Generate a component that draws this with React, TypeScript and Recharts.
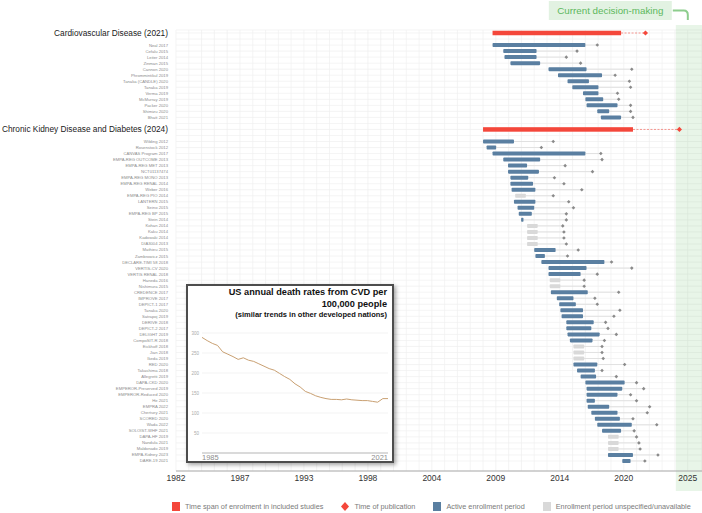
import {
  ComposedChart, Bar, Scatter, XAxis, YAxis, CartesianGrid, ReferenceArea,
  LineChart, Line,
} from 'recharts';

const RED = '#f4473b';
const BLUE = '#5a7fa1';
const GREY_BAR = '#d9d9d9';
const DIAMOND = '#8a8a8a';
const GREEN = '#5cb85c';
const FONT = '"Liberation Sans", Arial, Helvetica, sans-serif';

// section headers with the overall enrolment span and publication
const headers = ['Cardiovascular Disease (2021)', 'Chronic Kidney Disease and Diabetes (2024)'];
const headerStart = [2008.6, 2007.8];
const headerEnd = [2019.4, 2020.4];
const headerPub = [2021.45, 2024.3];

const cvdStudies = [
  'Neal 2017', 'Cefalu 2015', 'Leiter 2014', 'Zinman 2015', 'Cannon 2020', 'Phrommintikul 2019',
  'Tanaka (CANDLE) 2020', 'Tanaka 2019', 'Verma 2019', 'McMurray 2019', 'Packer 2020', 'Shimizu 2020', 'Bhatt 2021',
];
const cvdStart = [2008.6, 2009.5, 2009.6, 2010.1, 2013.3, 2014.1, 2014.9, 2015.3, 2016.2, 2016.4, 2016.5, 2017.4, 2017.7];
const cvdEnd = [2016.4, 2012.3, 2012.3, 2012.6, 2016.5, 2017.8, 2016.7, 2017.5, 2017.5, 2017.9, 2019.1, 2018.4, 2019.4];
const cvdPub = [2017.4, 2015.7, 2014.8, 2016.0, 2020.3, 2018.9, 2020.1, 2020.2, 2019.1, 2019.2, 2020.2, 2020.2, 2020.4];

const ckdStudies = [
  'Wilding 2012', 'Rosenstock 2012', 'CANVAS Program 2017', 'EMPA-REG OUTCOME 2013', 'EMPA-REG MET 2013',
  'NCT01137474', 'EMPA-REG MONO 2013', 'EMPA-REG RENAL 2014', 'Weber 2016', 'EMPA-REG PIO 2014',
  'LANTERN 2015', 'Seino 2015', 'EMPA-REG BP 2015', 'Stein 2014', 'Kohan 2014', 'Kaku 2014',
  'Kadowaki 2014', 'DIA3004 2013', 'Mathieu 2015', 'Zambrowicz 2015', 'DECLARE-TIMI 58 2018',
  'VERTIS-CV 2020', 'VERTIS RENAL 2018', 'Haneda 2016', 'Nishimura 2015', 'CREDENCE 2017',
  'IMPROVE 2017', 'DEPICT-1 2017', 'Tanaka 2020', 'Satrapoj 2019', 'DERIVE 2018', 'DEPICT-2 2017',
  'DELIGHT 2019', 'CompoSIT-R 2018', 'Eickhoff 2018', 'Jian 2018', 'Ikeda 2019', 'RED 2020',
  'Takashima 2018', 'Allegretti 2019', 'DAPA-CKD 2020', 'EMPEROR-Preserved 2019', 'EMPEROR-Reduced 2020',
  'He 2021', 'EMPRA 2022', 'Chertsey 2021', 'SCORED 2020', 'Wada 2022', 'SOLOIST-WHF 2021',
  'DAPA-HF 2019', 'Nandula 2021', 'Maldonado 2019', 'EMPA-Kidney 2023', 'DARE-19 2021',
];
const ckdStart = [
  2007.8, 2008.1, 2008.6, 2009.5, 2009.9, 2009.9, 2010.1, 2010.1, 2010.2, 2010.5,
  2010.4, 2010.7, 2010.8, 2011.0, 2011.5, 2011.5, 2011.5, 2011.5, 2012.1, 2012.2,
  2012.7, 2013.3, 2013.3, 2013.4, 2013.4, 2013.5, 2014.0, 2014.2, 2014.3, 2014.4,
  2014.8, 2014.8, 2014.9, 2015.1, 2015.4, 2015.4, 2015.4, 2015.4, 2015.7, 2016.0,
  2016.4, 2016.5, 2016.5, 2016.5, 2016.6, 2016.9, 2017.2, 2017.4, 2017.8, 2018.3,
  2018.3, 2018.3, 2018.3, 2019.5,
];
const ckdEnd = [
  2010.4, 2008.9, 2016.4, 2012.6, 2011.5, 2012.5, 2011.6, 2012.0, 2012.2, 2011.4,
  2012.2, 2012.1, 2011.9, 2011.2, 2012.4, 2012.4, 2012.4, 2012.4, 2013.9, 2013.0,
  2018.0, 2016.5, 2016.0, 2014.3, 2014.3, 2016.6, 2015.4, 2015.6, 2016.2, 2016.2,
  2017.1, 2016.9, 2017.6, 2017.0, 2016.3, 2016.3, 2016.3, 2017.4, 2017.2, 2017.3,
  2019.7, 2019.5, 2019.1, 2017.2, 2018.4, 2019.1, 2019.3, 2020.3, 2019.4, 2019.2,
  2019.2, 2019.2, 2020.4, 2020.2,
];
const ckdPub = [
  2013.7, 2012.7, 2017.7, 2017.8, 2014.7, 2017.0, 2013.8, 2014.6, 2016.1, 2013.7,
  2015.0, 2015.4, 2014.8, 2014.8, 2014.5, 2014.6, 2014.6, 2014.8, 2015.8, 2014.9,
  2018.6, 2020.3, 2017.4, 2016.3, 2016.3, 2019.2, 2017.2, 2017.4, 2019.3, 2018.8,
  2018.1, 2018.3, 2019.0, 2018.0, 2017.8, 2017.8, 2017.9, 2019.7, 2017.8, 2019.0,
  2020.7, 2021.3, 2020.2, 2020.7, 2021.8, 2021.6, 2020.4, 2022.4, 2020.5, 2020.7,
  2020.9, 2021.0, 2022.5, 2021.4,
];
const unspecified = [
  'EMPA-REG PIO 2014', 'Kohan 2014', 'Kaku 2014', 'Kadowaki 2014', 'DIA3004 2013',
  'Haneda 2016', 'Nishimura 2015', 'Eickhoff 2018', 'Jian 2018', 'Ikeda 2019',
  'DAPA-HF 2019', 'Nandula 2021', 'Maldonado 2019',
];

const xTickLabels = ['1982', '1987', '1993', '1998', '2004', '2009', '2014', '2020', '2025'];
const xMin = 1982;
const xLast = 2025;
const xMax = 2026.2;
const currentFrom = 2024;

// inset: US annual CVD death rate per 100,000
const usYears = [
  1985, 1986, 1987, 1988, 1989, 1990, 1991, 1992, 1993, 1994, 1995, 1996, 1997, 1998, 1999,
  2000, 2001, 2002, 2003, 2004, 2005, 2006, 2007, 2008, 2009, 2010, 2011, 2012, 2013, 2014,
  2015, 2016, 2017, 2018, 2019, 2020, 2021,
];
const usRates = [
  289, 281, 274, 269, 253, 247, 241, 234, 238, 232, 229, 223, 217, 211, 207,
  199, 191, 184, 173, 165, 154, 149, 143, 139, 136, 134, 134, 133, 135, 133,
  132, 131, 131, 129, 127, 136, 136,
];
const usTicks = [50, 100, 150, 200, 250, 300];

type Kind = 'header' | 'gap' | 'active' | 'unspec';
interface Row {
  label: string;
  kind: Kind;
  span?: [number, number];
  conn?: [number, number];
  pub?: number;
}

function studyRows(names: string[], start: number[], end: number[], pub: number[]): Row[] {
  return names.map((n, i) => ({
    label: n,
    kind: unspecified.includes(n) ? 'unspec' : 'active',
    span: [start[i], end[i]],
    conn: [end[i], pub[i]],
    pub: pub[i],
  }));
}

function headerRow(i: number): Row {
  return {
    label: headers[i],
    kind: 'header',
    span: [headerStart[i], headerEnd[i]],
    conn: [headerEnd[i], headerPub[i]],
    pub: headerPub[i],
  };
}

const rows: Row[] = [
  headerRow(0),
  { label: 'gap-1', kind: 'gap' },
  ...studyRows(cvdStudies, cvdStart, cvdEnd, cvdPub),
  { label: 'gap-2', kind: 'gap' },
  headerRow(1),
  { label: 'gap-3', kind: 'gap' },
  ...studyRows(ckdStudies, ckdStart, ckdEnd, ckdPub),
];

const gridTicks = Array.from({ length: 41 }, (_, k) => xMin + (k * (xLast - xMin)) / 40);
const usData = usYears.map((year, i) => ({ year, rate: usRates[i] }));

function StudyTick({ x, y, payload }: any) {
  const v = String(payload.value);
  if (v.startsWith('gap-')) return <g />;
  const isHeader = headers.includes(v);
  const fs = isHeader ? 8.3 : 4.2;
  return (
    <text x={x} y={y} dy={fs * 0.35} textAnchor="end" fontSize={fs}
      fill={isHeader ? '#1a1a1a' : '#8c8c8c'} fontFamily={FONT}>
      {v}
    </text>
  );
}

function SpanShape(props: any) {
  const { x, y, width, height, payload } = props;
  if (!payload || payload.kind === 'gap' || !isFinite(x) || !isFinite(width)) return <g />;
  const h = payload.kind === 'header' ? 4.5 : 4;
  const fill = payload.kind === 'header' ? RED : payload.kind === 'unspec' ? GREY_BAR : BLUE;
  return (
    <rect x={x} y={y + height / 2 - h / 2} width={Math.max(width, 0.5)} height={h}
      fill={fill} rx={payload.kind === 'header' ? 0 : 0.8} />
  );
}

function ConnShape(props: any) {
  const { x, y, width, height, payload } = props;
  if (!payload || payload.kind === 'gap' || !isFinite(x) || !isFinite(width)) return <g />;
  const cy = y + height / 2;
  if (payload.kind === 'header') {
    return <line x1={x} x2={x + width} y1={cy} y2={cy} stroke={RED} strokeOpacity={0.55}
      strokeWidth={1} strokeDasharray="2 1.5" />;
  }
  return <line x1={x} x2={x + width} y1={cy} y2={cy} stroke="#dcdcdc" strokeWidth={0.8} />;
}

function PubShape(props: any) {
  const { cx, cy, payload } = props;
  if (!payload || payload.pub == null || !isFinite(cx) || !isFinite(cy)) return <g />;
  const header = payload.kind === 'header';
  const r = header ? 2.6 : 1.8;
  return (
    <path d={`M${cx},${cy - r}L${cx + r},${cy}L${cx},${cy + r}L${cx - r},${cy}Z`}
      fill={header ? RED : DIAMOND} />
  );
}

function DecisionShape(props: any) {
  const { x, y, width, height } = props;
  const top = y - 5;
  const bottom = y + height + 28;
  return (
    <g>
      <rect x={x} y={top} width={width} height={bottom - top} fill={GREEN} fillOpacity={0.14} />
      <rect x={x - 127} y={y - 29} width={123} height={19} fill={GREEN} fillOpacity={0.18} />
      <text x={x - 65.5} y={y - 19.5} dy={3.4} textAnchor="middle" fontSize={9.8}
        fill={GREEN} fontFamily={FONT}>
        Current decision-making
      </text>
      <path d={`M${x - 3},${y - 19.5}H${x + 8}Q${x + 12},${y - 19.5} ${x + 12},${y - 15}V${y - 10}`}
        fill="none" stroke={GREEN} strokeOpacity={0.7} strokeWidth={2} />
    </g>
  );
}

function InsetTick({ x, y, payload, index }: any) {
  return (
    <text x={x} y={y} dy={6} textAnchor={index === 0 ? 'start' : 'end'} fontSize={7.5}
      fill="#8c8c8c" fontFamily={FONT}>
      {payload.value}
    </text>
  );
}

function Inset() {
  return (
    <div style={{
      position: 'absolute', left: 186, top: 284, width: 208, height: 179, boxSizing: 'border-box',
      background: '#fff', border: '2px solid #4d4d4d', boxShadow: '2px 2px 4px rgba(0,0,0,0.35)',
      fontFamily: FONT,
    }}>
      <div style={{
        position: 'absolute', right: 5, top: 0, textAlign: 'right', fontWeight: 'bold',
        color: '#111', fontSize: 9.2, lineHeight: '12px', whiteSpace: 'nowrap',
      }}>
        US annual death rates from CVD per<br />100,000 people
        <div style={{ fontSize: 7.5, lineHeight: '10px' }}>(similar trends in other developed nations)</div>
      </div>
      <div style={{ position: 'absolute', left: 0, top: 0 }}>
        <LineChart width={204} height={176} data={usData} margin={{ top: 47, right: 4, bottom: 0, left: 0 }}>
          <CartesianGrid vertical={false} stroke="#eeeeee" strokeWidth={0.7} />
          <XAxis dataKey="year" type="number" domain={[1985, 2021]} ticks={[1985, 2021]} interval={0}
            axisLine={{ stroke: '#bbbbbb' }} tickLine={false} tickSize={0} tickMargin={1} height={9}
            tick={<InsetTick />} />
          <YAxis domain={[0, 300]} ticks={usTicks} interval={0} width={14} axisLine={false}
            tickLine={false} tickSize={0} tickMargin={3}
            tick={{ fontSize: 4.5, fill: '#aaaaaa', fontFamily: FONT }} />
          <Line type="linear" dataKey="rate" stroke="#c9a072" strokeWidth={1} dot={false}
            isAnimationActive={false} />
        </LineChart>
      </div>
    </div>
  );
}

const legendItems = [
  { label: 'Time span of enrolment in included studies', icon: 'square', color: RED },
  { label: 'Time of publication', icon: 'diamond', color: RED },
  { label: 'Active enrollment period', icon: 'square', color: BLUE },
  { label: 'Enrollment period unspecified/unavailable', icon: 'square', color: GREY_BAR },
];

function LegendRow() {
  return (
    <div style={{
      position: 'absolute', left: 172, top: 501, height: 10, display: 'flex', alignItems: 'center',
      fontFamily: FONT, fontSize: 7.3, color: '#7a7a7a', whiteSpace: 'nowrap',
    }}>
      {legendItems.map((it, i) => (
        <div key={it.label} style={{ display: 'flex', alignItems: 'center', marginLeft: i === 0 ? 0 : 18 }}>
          <svg width={8} height={9} style={{ marginRight: 5 }}>
            {it.icon === 'square'
              ? <rect x={0} y={0} width={8} height={9} fill={it.color} />
              : <path d="M4,0L8,4.5L4,9L0,4.5Z" fill={it.color} />}
          </svg>
          <span>{it.label}</span>
        </div>
      ))}
    </div>
  );
}

export default function App() {
  return (
    <div style={{ position: 'absolute', left: 0, top: 0, width: 702, height: 513, background: '#fff' }}>
      <ComposedChart width={702} height={491} data={rows} layout="vertical"
        margin={{ top: 30, right: 0, bottom: 0, left: 0 }}>
        <CartesianGrid yAxisId="main" stroke="#efefef" strokeWidth={0.7} />
        <ReferenceArea yAxisId="main" x1={currentFrom} x2={xMax} ifOverflow="visible" shape={DecisionShape} />
        <XAxis type="number" domain={[xMin, xMax]} ticks={gridTicks} interval={0} allowDataOverflow
          tickFormatter={(_v: number, i: number) => (i % 5 === 0 ? xTickLabels[i / 5] : '')}
          axisLine={{ stroke: '#aaaaaa' }} tickLine={false} tickSize={2} height={20}
          tick={{ fontSize: 8.5, fill: '#333333', fontFamily: FONT }} />
        <YAxis yAxisId="main" type="category" dataKey="label" width={176} interval={0}
          axisLine={false} tickLine={false} tick={<StudyTick />} padding={{ top: 0, bottom: 7 }} />
        <YAxis yAxisId="conn" type="category" dataKey="label" hide width={0} interval={0}
          padding={{ top: 0, bottom: 7 }} />
        <Bar yAxisId="conn" dataKey="conn" barSize={2} shape={ConnShape} isAnimationActive={false} />
        <Bar yAxisId="main" dataKey="span" barSize={4} shape={SpanShape} isAnimationActive={false} />
        <Scatter yAxisId="main" dataKey="pub" shape={PubShape} isAnimationActive={false} />
      </ComposedChart>
      <Inset />
      <LegendRow />
    </div>
  );
}
